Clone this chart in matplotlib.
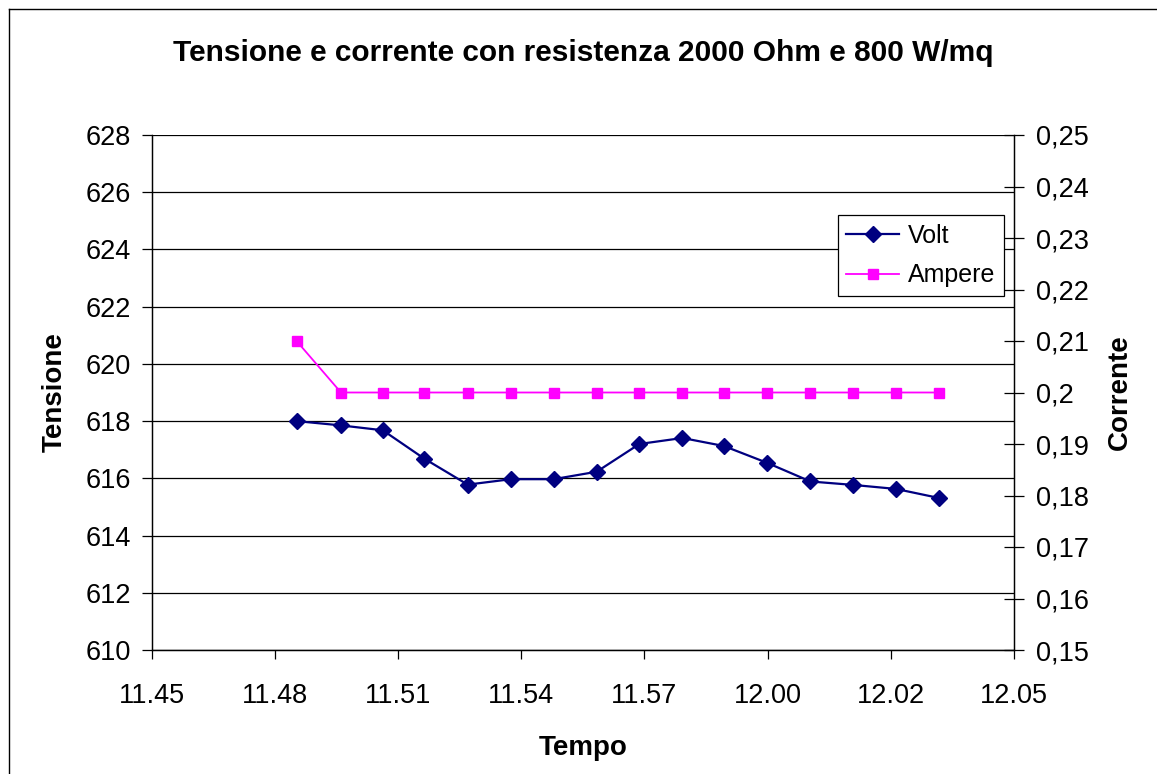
import matplotlib
matplotlib.use("Agg")
import matplotlib.pyplot as plt
from matplotlib.lines import Line2D

plt.rcParams['font.family'] = ['Liberation Sans', 'DejaVu Sans']

# minutes after 11.45
tempo_min = [3.36, 4.39, 5.36, 6.32, 7.33, 8.33, 9.32, 10.32, 11.31, 12.31,
             13.27, 14.26, 15.28, 16.27, 17.26, 18.27]
volt = [618.0, 617.85, 617.68, 616.69, 615.78, 615.97, 615.97, 616.23,
        617.20, 617.41, 617.13, 616.55, 615.89, 615.77, 615.63, 615.31]
ampere = [0.21, 0.20, 0.20, 0.20, 0.20, 0.20, 0.20, 0.20,
          0.20, 0.20, 0.20, 0.20, 0.20, 0.20, 0.20, 0.20]
x_tick_labels = ['11.45', '11.48', '11.51', '11.54', '11.57', '12.00', '12.02', '12.05']
left_ticks = [610, 612, 614, 616, 618, 620, 622, 624, 626, 628]
right_ticks = [0.15, 0.16, 0.17, 0.18, 0.19, 0.20, 0.21, 0.22, 0.23, 0.24, 0.25]

W, H = 1157, 774
fig = plt.figure(figsize=(W / 100, H / 100), dpi=100)
ax1 = fig.add_axes([151.7 / W, 1 - 650 / H, (1014 - 151.7) / W, (650 - 135) / H])
ax2 = ax1.twinx()

ax1.plot(tempo_min, volt, color='#000080', marker='D', markersize=8.5, lw=1.6,
         label='Volt')
ax2.plot(tempo_min, ampere, color='#FF00FF', marker='s', markersize=7.5, lw=1.3,
         label='Ampere')

ax1.set_xlim(0, 20)
ax1.set_ylim(610, 628)
ax2.set_ylim(0.15, 0.25)

xt = [20 / 7 * i for i in range(len(x_tick_labels))]
ax1.set_xticks(xt)
ax1.set_xticklabels(x_tick_labels)
ax1.set_yticks(left_ticks)
ax1.set_yticklabels([str(v) for v in left_ticks])
ax2.set_yticks(right_ticks)
ax2.set_yticklabels([('%g' % v).replace('.', ',') for v in right_ticks])

ax1.yaxis.grid(True, color='black', lw=0.9)
ax1.set_axisbelow(True)

for a in (ax1, ax2):
    for s in a.spines.values():
        s.set_color('black')
        s.set_linewidth(0.9)
ax1.spines['top'].set_visible(False)
ax2.spines['top'].set_visible(False)

ax1.tick_params(axis='x', direction='out', length=6.5, width=0.9, labelsize=19.5, pad=17)
ax1.tick_params(axis='y', direction='out', length=7, width=0.9, labelsize=19.5, pad=8)
ax2.tick_params(axis='y', direction='inout', length=14, width=0.9, labelsize=19.5, pad=8.5)

ax1.set_xlabel('Tempo', fontsize=20, fontweight='bold', labelpad=19)
ax1.set_ylabel('Tensione', fontsize=20, fontweight='bold', labelpad=13)
ax2.set_ylabel('Corrente', fontsize=20, fontweight='bold', labelpad=13)

fig.text(583 / W, 1 - 53 / H, 'Tensione e corrente con resistenza 2000 Ohm e 800 W/mq',
         ha='center', va='center', fontsize=21.5, fontweight='bold')

h1, l1 = ax1.get_legend_handles_labels()
h2, l2 = ax2.get_legend_handles_labels()
leg = ax2.legend(h1 + h2, l1 + l2, loc='upper left',
                 bbox_to_anchor=(837.7 / W, 1 - 215 / H), bbox_transform=fig.transFigure,
                 borderaxespad=0, fontsize=18, fancybox=False, framealpha=1,
                 edgecolor='black', handlelength=2.1, handletextpad=0.35,
                 borderpad=0.35, labelspacing=0.62)
leg.get_frame().set_linewidth(0.9)

fig.add_artist(Line2D([9 / W, 9 / W], [0, 1 - 9 / H], color='black', lw=1))
fig.add_artist(Line2D([9 / W, 1], [1 - 9 / H, 1 - 9 / H], color='black', lw=1))

fig.savefig('out.png', dpi=100)
